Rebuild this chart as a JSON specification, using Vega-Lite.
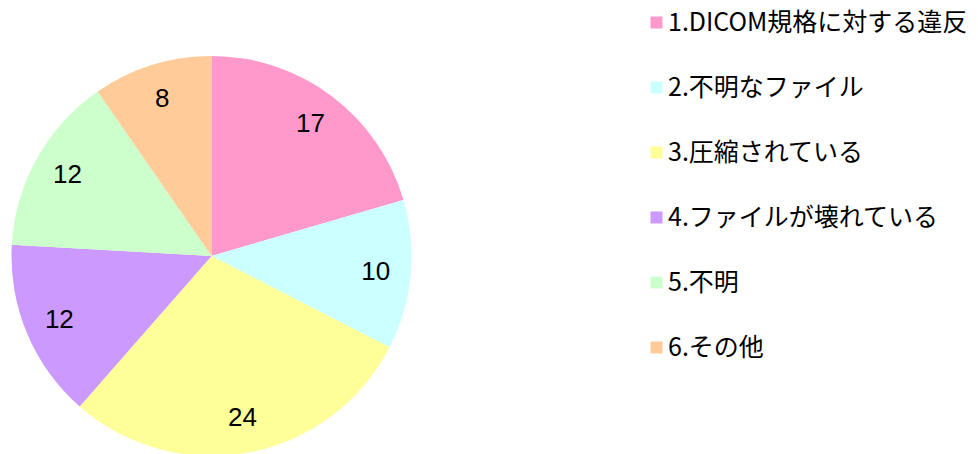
{
  "$schema": "https://vega.github.io/schema/vega-lite/v6.json",
  "width": 423,
  "height": 512,
  "autosize": {"type": "pad"},
  "padding": {"top": 0, "left": 0, "right": 0, "bottom": -58},
  "background": "white",
  "config": {"view": {"stroke": null}},
  "data": {
    "values": [
      {"id": 1, "category": "1.DICOM規格に対する違反", "count": 17},
      {"id": 2, "category": "2.不明なファイル", "count": 10},
      {"id": 3, "category": "3.圧縮されている", "count": 24},
      {"id": 4, "category": "4.ファイルが壊れている", "count": 12},
      {"id": 5, "category": "5.不明", "count": 12},
      {"id": 6, "category": "6.その他", "count": 8}
    ]
  },
  "encoding": {
    "theta": {"field": "count", "type": "quantitative", "stack": true},
    "order": {"field": "id", "type": "quantitative"}
  },
  "layer": [
    {
      "mark": {"type": "arc", "outerRadius": 200},
      "encoding": {
        "color": {
          "field": "category",
          "type": "nominal",
          "sort": null,
          "scale": {
            "domain": ["1.DICOM規格に対する違反", "2.不明なファイル", "3.圧縮されている", "4.ファイルが壊れている", "5.不明", "6.その他"],
            "range": ["#FF99CC", "#CCFFFF", "#FFFF99", "#CC99FF", "#CCFFCC", "#FFCC99"]
          },
          "legend": {
            "title": null,
            "orient": "right",
            "offset": 211,
            "padding": 10,
            "symbolType": "square",
            "symbolSize": 144,
            "symbolStrokeWidth": 0,
            "symbolOpacity": 1,
            "labelFont": "Noto Sans CJK JP",
            "labelFontSize": 25,
            "labelColor": "black",
            "labelOffset": -1,
            "labelLimit": 400,
            "rowPadding": 39
          }
        }
      }
    },
    {
      "mark": {"type": "text", "radius": 165, "font": "Liberation Sans", "fontSize": 26, "fill": "black"},
      "encoding": {
        "detail": {"field": "category", "type": "nominal", "sort": null},
        "text": {"field": "count", "type": "quantitative"}
      }
    }
  ]
}
